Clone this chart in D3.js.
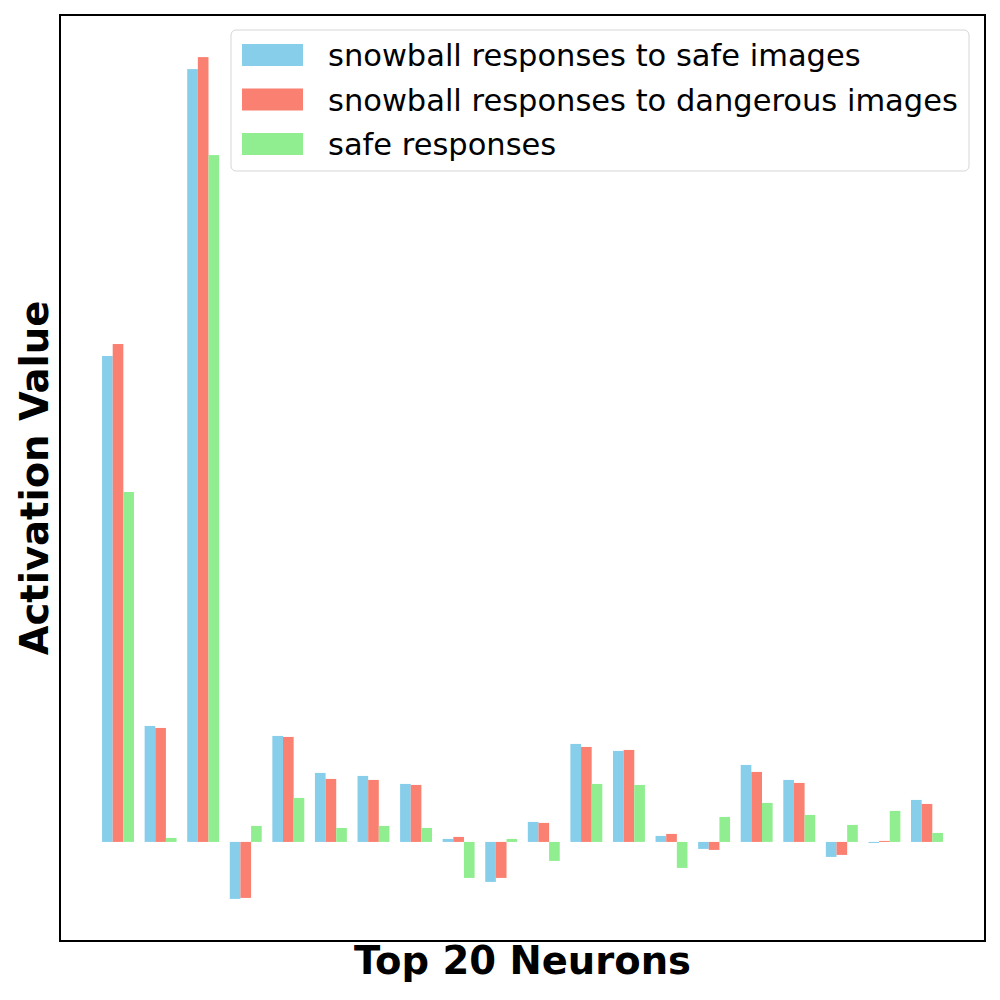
<!DOCTYPE html>
<html>
<head>
<meta charset="utf-8">
<title>Top 20 Neurons</title>
<script src="https://d3js.org/d3.v7.min.js"></script>
<style>
  body { margin: 0; background: #fff; }
  text { font-family: "DejaVu Sans", sans-serif; }
</style>
</head>
<body>
<script>
// neuron index 0..19
var neurons = d3.range(20);
var seriesNames = ["snowball responses to safe images", "snowball responses to dangerous images", "safe responses"];
var seriesColors = ["skyblue", "salmon", "lightgreen"];

// activation values
var safeImages      = [4.86, 1.16, 7.73, -0.57, 1.06, 0.69, 0.66, 0.58, 0.03, -0.40, 0.20, 0.98, 0.91, 0.06, -0.07, 0.77, 0.62, -0.15, -0.01, 0.42];
var dangerousImages = [4.98, 1.14, 7.85, -0.56, 1.05, 0.63, 0.62, 0.57, 0.05, -0.36, 0.19, 0.95, 0.92, 0.08, -0.08, 0.70, 0.59, -0.13, 0.01, 0.38];
var safeResponses   = [3.50, 0.04, 6.87, 0.16, 0.44, 0.14, 0.16, 0.14, -0.36, 0.03, -0.19, 0.58, 0.57, -0.26, 0.25, 0.39, 0.27, 0.17, 0.31, 0.09];
var allSeries = [safeImages, dangerousImages, safeResponses];

var W = 1000, H = 1000;
var box = {left: 60, right: 985, top: 15, bottom: 941};
var barW = 0.25;

var svg = d3.select("body").append("svg")
    .attr("width", W)
    .attr("height", H);

// x range like matplotlib with 5% margins
var xmin = -barW * 1.5, xmax = 19 + barW * 1.5;
var xpad = (xmax - xmin) * 0.05;
var x = d3.scaleLinear()
    .domain([xmin - xpad, xmax + xpad])
    .range([box.left, box.right]);

var allVals = d3.merge(allSeries);
var ymin = Math.min(0, d3.min(allVals)), ymax = d3.max(allVals);
var ypad = (ymax - ymin) * 0.05;
var y = d3.scaleLinear()
    .domain([ymin - ypad, ymax + ypad])
    .range([box.bottom, box.top]);

// bars
allSeries.forEach(function(vals, s){
    svg.append("g").selectAll("rect")
        .data(vals)
        .enter()
        .append("rect")
        .attr("x", function(d, i){ return x(i + (s - 1) * barW - barW / 2); })
        .attr("width", x(barW) - x(0))
        .attr("y", function(d){ return y(Math.max(0, d)); })
        .attr("height", function(d){ return Math.abs(y(d) - y(0)); })
        .attr("fill", seriesColors[s]);
});

// frame
svg.append("rect")
    .attr("x", box.left)
    .attr("y", box.top)
    .attr("width", box.right - box.left)
    .attr("height", box.bottom - box.top)
    .attr("fill", "none")
    .attr("stroke", "black")
    .attr("stroke-width", 2);

// axis labels
svg.append("text")
    .attr("x", (box.left + box.right) / 2)
    .attr("y", 974)
    .attr("text-anchor", "middle")
    .style("font-size", "38.5px")
    .style("font-weight", "bold")
    .text("Top 20 Neurons");

svg.append("text")
    .attr("transform", "translate(48," + (box.top + box.bottom) / 2 + ") rotate(-90)")
    .attr("text-anchor", "middle")
    .style("font-size", "38.5px")
    .style("font-weight", "bold")
    .text("Activation Value");

// legend
var lg = svg.append("g").attr("transform", "translate(231,30)");
lg.append("rect")
    .attr("width", 738)
    .attr("height", 141)
    .attr("rx", 5)
    .attr("fill", "white")
    .attr("fill-opacity", 0.8)
    .attr("stroke", "#d6d6d6")
    .attr("stroke-width", 1);

var rows = lg.selectAll(".row")
    .data(seriesNames)
    .enter()
    .append("g")
    .attr("class", "row")
    .attr("transform", function(d, i){ return "translate(0," + (25 + i * 44.5) + ")"; });

rows.append("rect")
    .attr("x", 11)
    .attr("y", -11)
    .attr("width", 61)
    .attr("height", 22)
    .attr("fill", function(d, i){ return seriesColors[i]; });

rows.append("text")
    .attr("x", 97)
    .attr("y", 11)
    .style("font-size", "30.5px")
    .text(function(d){ return d; });
</script>
</body>
</html>
